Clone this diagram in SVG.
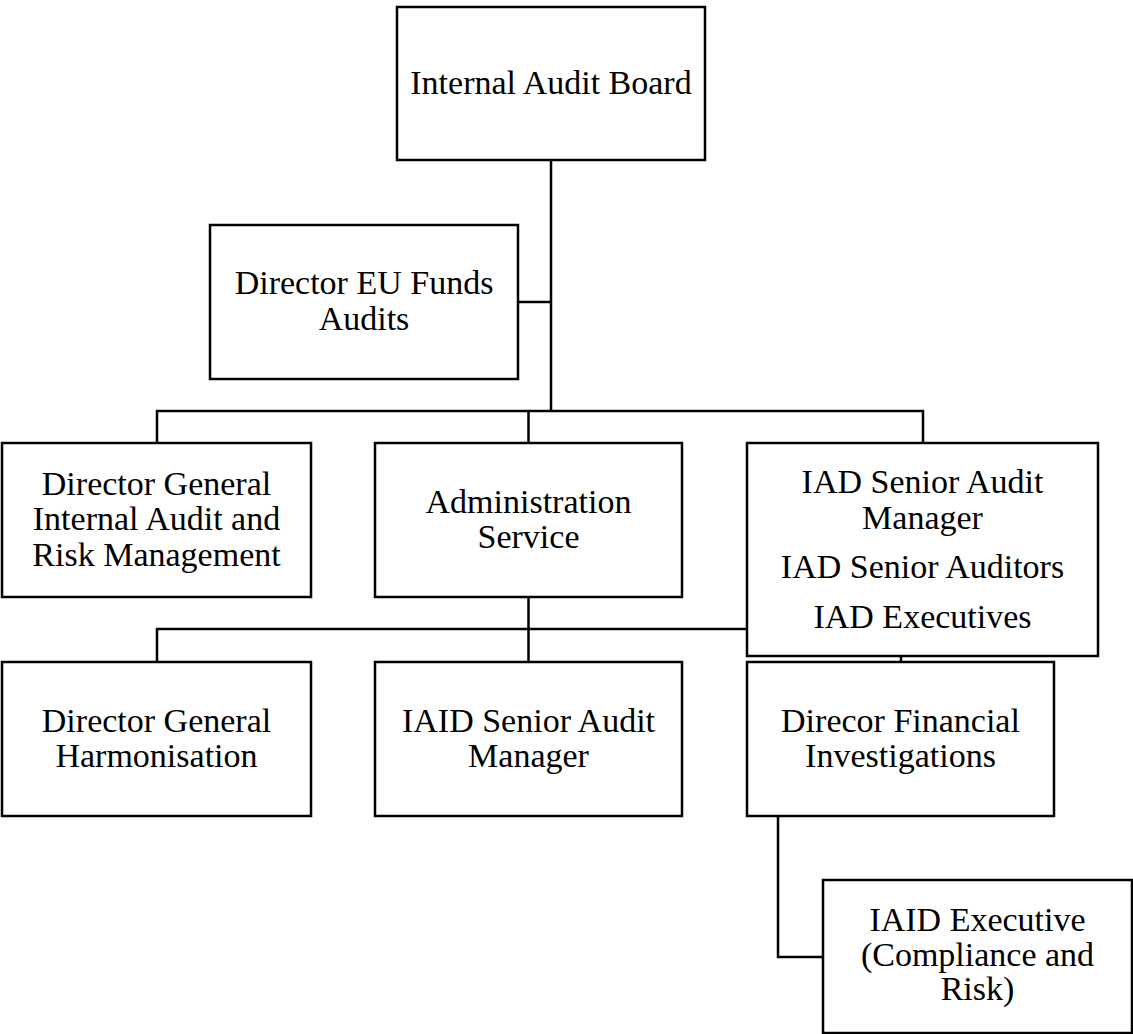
<svg xmlns="http://www.w3.org/2000/svg" width="1133" height="1034" viewBox="0 0 1133 1034">
<style>
.box{fill:#fff;stroke:#000;stroke-width:2.5}
.t{font-family:"Liberation Serif","Times New Roman",serif;font-size:34px;fill:#000;text-anchor:middle}
.c{fill:none;stroke:#000;stroke-width:2.5}
</style>
<rect width="1133" height="1034" fill="#fff"/>
<g id="connectors">
<path class="c" d="M551 160V411M518 302H551M157 443V411H923V443M528.5 411V443M528.5 597V662M157 662V629H747M901 656V662M778 816V957H823"/>
</g>
<g id="board"><rect class="box" x="397" y="7" width="308" height="153"/><text class="t" x="551" y="94">Internal Audit Board</text></g>
<g id="eu"><rect class="box" x="210" y="225" width="308" height="154"/><text class="t" x="364" y="294">Director EU Funds</text><text class="t" x="364" y="330">Audits</text></g>
<g id="dgiarm"><rect class="box" x="2" y="443" width="309" height="154"/><text class="t" x="156.5" y="495">Director General</text><text class="t" x="156.5" y="530">Internal Audit and</text><text class="t" x="156.5" y="566">Risk Management</text></g>
<g id="admin"><rect class="box" x="375" y="443" width="307" height="154"/><text class="t" x="528.5" y="513">Administration</text><text class="t" x="528.5" y="548">Service</text></g>
<g id="iad"><rect class="box" x="747" y="443" width="351" height="213"/><text class="t" x="922.5" y="493">IAD Senior Audit</text><text class="t" x="922.5" y="529">Manager</text><text class="t" x="922.5" y="578">IAD Senior Auditors</text><text class="t" x="922.5" y="628">IAD Executives</text></g>
<g id="dgh"><rect class="box" x="2" y="662" width="309" height="154"/><text class="t" x="156.5" y="732">Director General</text><text class="t" x="156.5" y="767">Harmonisation</text></g>
<g id="iaidsam"><rect class="box" x="375" y="662" width="307" height="154"/><text class="t" x="528.5" y="732">IAID Senior Audit</text><text class="t" x="528.5" y="767">Manager</text></g>
<g id="dfi"><rect class="box" x="747" y="662" width="307" height="154"/><text class="t" x="900.5" y="732">Direcor Financial</text><text class="t" x="900.5" y="767">Investigations</text></g>
<g id="iaidexec"><rect class="box" x="823" y="880" width="309" height="153"/><text class="t" x="977.5" y="931">IAID Executive</text><text class="t" x="977.5" y="966">(Compliance and</text><text class="t" x="977.5" y="1000">Risk)</text></g>
</svg>
